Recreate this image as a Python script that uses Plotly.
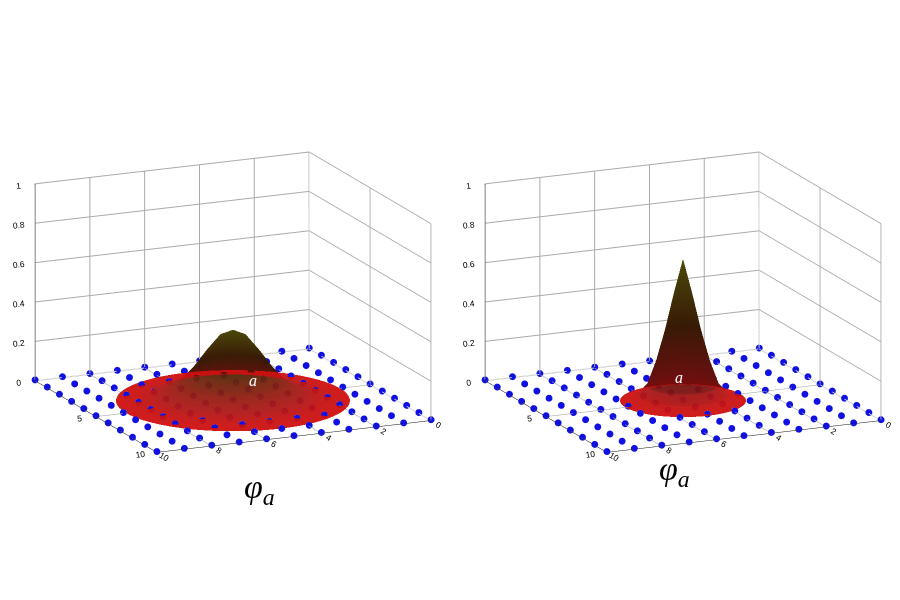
import numpy as np
import plotly.graph_objects as go

grid_x = list(range(0, 11))
grid_y = list(range(0, 11))
# radial profiles (radius, height)
left_r = [0, 0.45, 0.9, 1.35, 1.8, 2.25, 2.7, 3.15, 3.6, 3.9]
left_h = [0.36, 0.33, 0.25, 0.16, 0.09, 0.05, 0.025, 0.01, 0.003, 0.0]
right_r = [0, 0.3, 0.6, 0.9, 1.2, 1.5, 1.8, 2.1]
right_h = [0.72, 0.55, 0.36, 0.2, 0.08, 0.03, 0.01, 0.0]
center = (5, 5)
z_ticks = [0, 0.2, 0.4, 0.6, 0.8, 1]

theta = np.linspace(0, 2 * np.pi, 73)
cs = [[0, "#d01010"], [0.1, "#b01818"], [0.5, "#5a2a08"], [1, "#7a7a10"]]

def surf(r, h, scene):
    R, T = np.meshgrid(r, theta)
    H = np.tile(h, (len(theta), 1))
    return go.Surface(x=center[0] + R * np.cos(T), y=center[1] + R * np.sin(T), z=H,
                      surfacecolor=H, colorscale=cs, cmin=0, cmax=0.36 if scene == "scene" else 0.72,
                      showscale=False, scene=scene, opacity=0.95,
                      lighting=dict(ambient=0.6, diffuse=0.6, specular=0.8, roughness=0.3))

X, Y = np.meshgrid(grid_x, grid_y)
fig = go.Figure()
for sc, r, h in [("scene", left_r, left_h), ("scene2", right_r, right_h)]:
    fig.add_trace(surf(r, h, sc))
    fig.add_trace(go.Scatter3d(x=X.ravel(), y=Y.ravel(), z=np.zeros(X.size) + 0.005, mode="markers",
                               marker=dict(size=4, color="#1010e0"), scene=sc, showlegend=False))

ax = dict(showbackground=False, gridcolor="#aaa", linecolor="black", showline=True,
          title="", tickfont=dict(size=10, family="Arial", color="black"), showspikes=False)
def scene(dom):
    return dict(domain=dict(x=dom, y=[0.0, 1.0]),
                xaxis=dict(ax, range=[0, 10], tickvals=[0, 2, 4, 6, 8, 10]),
                yaxis=dict(ax, range=[0, 10], tickvals=[0, 5, 10]),
                zaxis=dict(ax, range=[0, 1], tickvals=z_ticks),
                aspectmode="manual", aspectratio=dict(x=1, y=1, z=0.68),
                camera=dict(eye=dict(x=0.6, y=1.35, z=0.38), center=dict(x=0, y=0, z=-0.02),
                            projection=dict(type="orthographic")))

fig.update_layout(width=900, height=600, paper_bgcolor="white", showlegend=False,
                  margin=dict(l=0, r=0, t=0, b=0),
                  scene=scene([0.0, 0.5]), scene2=scene([0.5, 1.0]),
                  annotations=[
                      dict(text="<i>φ<sub>a</sub></i>", x=0.26, y=0.16, xref="paper", yref="paper",
                           showarrow=False, font=dict(size=34, family="Liberation Serif", color="black")),
                      dict(text="<i>φ<sub>a</sub></i>", x=0.76, y=0.19, xref="paper", yref="paper",
                           showarrow=False, font=dict(size=34, family="Liberation Serif", color="black")),
                      dict(text="<i>a</i>", x=0.265, y=0.38, xref="paper", yref="paper",
                           showarrow=False, font=dict(size=16, color="white", family="Liberation Serif")),
                      dict(text="<i>a</i>", x=0.752, y=0.385, xref="paper", yref="paper",
                           showarrow=False, font=dict(size=16, color="white", family="Liberation Serif")),
                  ])
fig.write_html("out.html")
